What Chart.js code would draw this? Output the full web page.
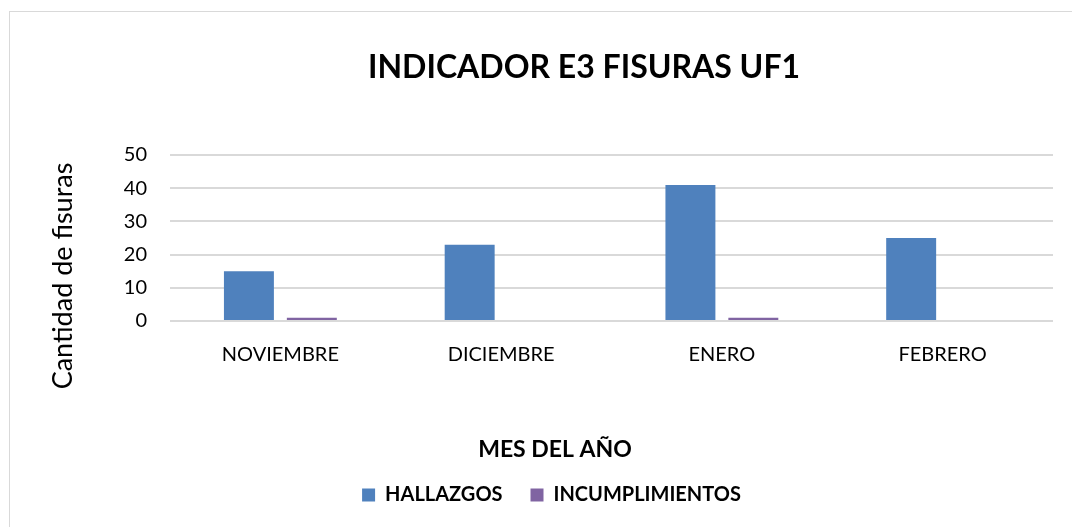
<!DOCTYPE html>
<html>
<head>
<meta charset="utf-8">
<title>Indicador E3 fisuras UF1</title>
<script src="https://cdn.jsdelivr.net/npm/chart.js@4.4.1/dist/chart.umd.min.js"></script>
<style>
    html, body { margin: 0; padding: 0; background: #fff; }
    #wrap { position: relative; width: 1072px; height: 527px; overflow: hidden; }
    #frame {
        position: absolute; left: 9px; top: 11px; width: 1100px; height: 600px;
        border: 1px solid #d9d9d9;
    }
    canvas { position: absolute; left: 0; top: 0; }
</style>
</head>
<body>
<div id="wrap">
    <div id="frame"></div>
    <canvas id="chart" width="1072" height="527"></canvas>
</div>
<script>
const meses = ['NOVIEMBRE', 'DICIEMBRE', 'ENERO', 'FEBRERO'];
const hallazgos = [15, 23, 41, 25];
const incumplimientos = [1, 0, 1, 0];

const titulo = 'INDICADOR E3 FISURAS UF1';
const tituloX = 'MES DEL AÑO';
const tituloY = 'Cantidad de fisuras';

const FONT = 'Lato, "Open Sans", sans-serif';

// titles drawn by hand: the sheet centres them on the whole frame, not the plot
const titulos = {
    id: 'titulos',
    afterDraw(chart) {
        const { ctx } = chart;
        ctx.save();
        ctx.fillStyle = '#000';
        ctx.textAlign = 'center';
        ctx.textBaseline = 'middle';

        ctx.font = 'bold 32px ' + FONT;
        ctx.fillText(titulo, 584, 68);

        ctx.font = 'bold 23px ' + FONT;
        ctx.fillText(tituloX, 555, 450);

        ctx.translate(63, 276);
        ctx.rotate(-Math.PI / 2);
        ctx.font = '27px ' + FONT;
        ctx.fillText(tituloY, 0, 0);
        ctx.restore();
    }
};

new Chart(document.getElementById('chart'), {
    type: 'bar',
    data: {
        labels: meses,
        datasets: [
            { label: 'HALLAZGOS', data: hallazgos, backgroundColor: '#4f81bd' },
            { label: 'INCUMPLIMIENTOS', data: incumplimientos, backgroundColor: '#8064a2' },
        ],
    },
    options: {
        responsive: false,
        animation: false,
        layout: { padding: { top: 155, right: 19, bottom: 12, left: 50 } },
        datasets: { bar: { categoryPercentage: 0.57, barPercentage: 0.794 } },
        plugins: {
            title: { display: false },
            legend: {
                position: 'bottom',
                labels: {
                    color: '#000',
                    font: { family: FONT, size: 20, weight: 'bold' },
                    boxWidth: 13,
                    boxHeight: 13,
                    padding: 28,
                },
            },
            tooltip: { enabled: false },
        },
        scales: {
            x: {
                grid: { display: false, drawTicks: false },
                border: { display: false },
                ticks: { color: '#000', font: { family: FONT, size: 20 }, padding: 22 },
                afterFit(scale) { scale.height = 136; },
            },
            y: {
                min: 0,
                max: 50,
                ticks: { stepSize: 10, color: '#000', font: { family: FONT, size: 20 }, padding: 23 },
                grid: { color: '#d9d9d9', lineWidth: 2, drawTicks: false },
                border: { display: false },
                afterFit(scale) { scale.width = 120; },
            },
        },
    },
    plugins: [titulos],
});
</script>
</body>
</html>
